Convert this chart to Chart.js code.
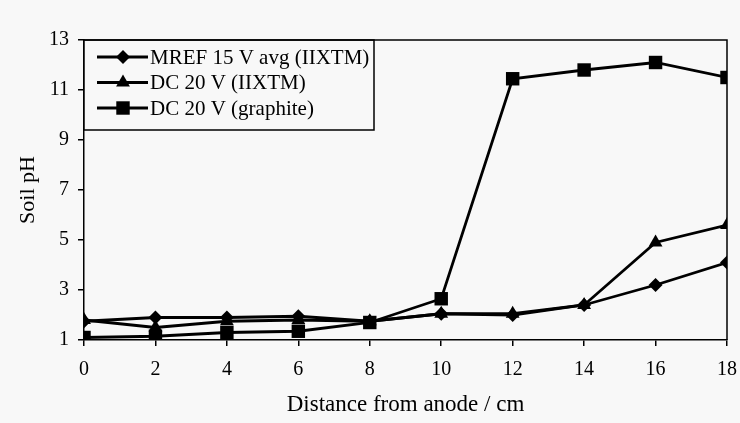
<!DOCTYPE html>
<html>
<head>
<meta charset="utf-8">
<script src="https://cdn.jsdelivr.net/npm/chart.js@4.4.1/dist/chart.umd.min.js"></script>
<style>
  html, body { margin: 0; padding: 0; background: #f8f8f8; }
  #wrap { width: 740px; height: 423px; }
</style>
</head>
<body>
<div id="wrap"><canvas id="chart" width="740" height="423"></canvas></div>
<script>
// ---- data ----
var distance = [0, 2, 4, 6, 8, 10, 12, 14, 16, 18];
var mrefAvg  = [1.75, 1.9, 1.9, 1.95, 1.75, 2.05, 2.0, 2.4, 3.2, 4.1];
var dcIixtm  = [1.8, 1.5, 1.75, 1.8, 1.75, 2.05, 2.05, 2.4, 4.9, 5.6];
var dcGraph  = [1.1, 1.15, 1.3, 1.35, 1.7, 2.65, 11.45, 11.8, 12.1, 11.5];
var seriesNames = ['MREF 15 V avg (IIXTM)', 'DC 20 V (IIXTM)', 'DC 20 V (graphite)'];
var xTicks = [0, 2, 4, 6, 8, 10, 12, 14, 16, 18];
var yTicks = [1, 3, 5, 7, 9, 11, 13];

var FONT = '"Liberation Serif", "Times New Roman", serif';

function pts(vals) {
  return distance.map(function (d, i) { return { x: d, y: vals[i] }; });
}

function ds(label, vals, style, radius) {
  return {
    label: label,
    data: pts(vals),
    borderColor: '#000',
    backgroundColor: '#000',
    borderWidth: 2.8,
    pointStyle: style,
    pointRadius: radius,
    pointBorderWidth: 0,
    tension: 0
  };
}

// legend drawn inside the plot, boxed, top-left
var boxLegend = {
  id: 'boxLegend',
  afterDraw: function (chart) {
    var ctx = chart.ctx, a = chart.chartArea;
    var x0 = a.left, y0 = a.top, w = 290, h = 90;
    ctx.save();
    ctx.fillStyle = '#f8f8f8';
    ctx.fillRect(x0, y0, w, h);
    ctx.strokeStyle = '#000';
    ctx.lineWidth = 1.5;
    ctx.strokeRect(x0, y0, w, h);
    ctx.font = '21px ' + FONT;
    ctx.textBaseline = 'middle';
    chart.data.datasets.forEach(function (d, i) {
      var cy = y0 + 17 + i * 25.5;
      ctx.strokeStyle = '#000';
      ctx.lineWidth = 2.8;
      ctx.beginPath();
      ctx.moveTo(x0 + 13, cy);
      ctx.lineTo(x0 + 64, cy);
      ctx.stroke();
      ctx.fillStyle = '#000';
      Chart.helpers.drawPoint(ctx, { pointStyle: d.pointStyle, radius: d.pointRadius, borderWidth: 0 }, x0 + 39, cy);
      ctx.fillText(d.label, x0 + 66, cy + 1);
    });
    ctx.restore();
  }
};

new Chart(document.getElementById('chart'), {
  type: 'line',
  data: {
    datasets: [
      ds(seriesNames[0], mrefAvg, 'rectRot', 7),
      ds(seriesNames[1], dcIixtm, 'triangle', 8),
      ds(seriesNames[2], dcGraph, 'rect', 9.5)
    ]
  },
  options: {
    responsive: false,
    animation: false,
    layout: { padding: { top: 40, right: 13, left: 0, bottom: 0 } },
    plugins: { legend: { display: false }, tooltip: { enabled: false } },
    scales: {
      x: {
        type: 'linear', min: 0, max: 18,
        afterBuildTicks: function (s) { s.ticks = xTicks.map(function (v) { return { value: v }; }); },
        border: { color: '#000', width: 1.5 },
        grid: { drawOnChartArea: false, color: '#000', tickLength: 6, lineWidth: 1.5 },
        ticks: { color: '#000', font: { family: FONT, size: 20 }, padding: 12, maxRotation: 0 },
        title: { display: true, text: 'Distance from anode / cm', color: '#000',
                 font: { family: FONT, size: 23 }, padding: { top: 0, bottom: 4 } },
        afterFit: function (s) { s.height = 83; s.paddingLeft = 0; s.paddingRight = 0; }
      },
      y: {
        min: 1, max: 13,
        afterBuildTicks: function (s) { s.ticks = yTicks.map(function (v) { return { value: v }; }); },
        border: { color: '#000', width: 1.5 },
        grid: { drawOnChartArea: false, color: '#000', tickLength: 6, lineWidth: 1.5 },
        ticks: { color: '#000', font: { family: FONT, size: 20 }, padding: 9 },
        title: { display: true, text: 'Soil pH', color: '#000',
                 font: { family: FONT, size: 22 }, padding: { top: 15, bottom: 0 } },
        afterFit: function (s) { s.width = 84; s.paddingTop = 0; s.paddingBottom = 0; }
      }
    }
  },
  plugins: [boxLegend, {
    id: 'frame',
    afterDraw: function (chart) {
      var ctx = chart.ctx, a = chart.chartArea;
      ctx.save();
      ctx.strokeStyle = '#000';
      ctx.lineWidth = 1.5;
      ctx.beginPath();
      ctx.moveTo(a.left, a.top);
      ctx.lineTo(a.right, a.top);
      ctx.lineTo(a.right, a.bottom);
      ctx.stroke();
      ctx.restore();
    }
  }]
});
</script>
</body>
</html>
